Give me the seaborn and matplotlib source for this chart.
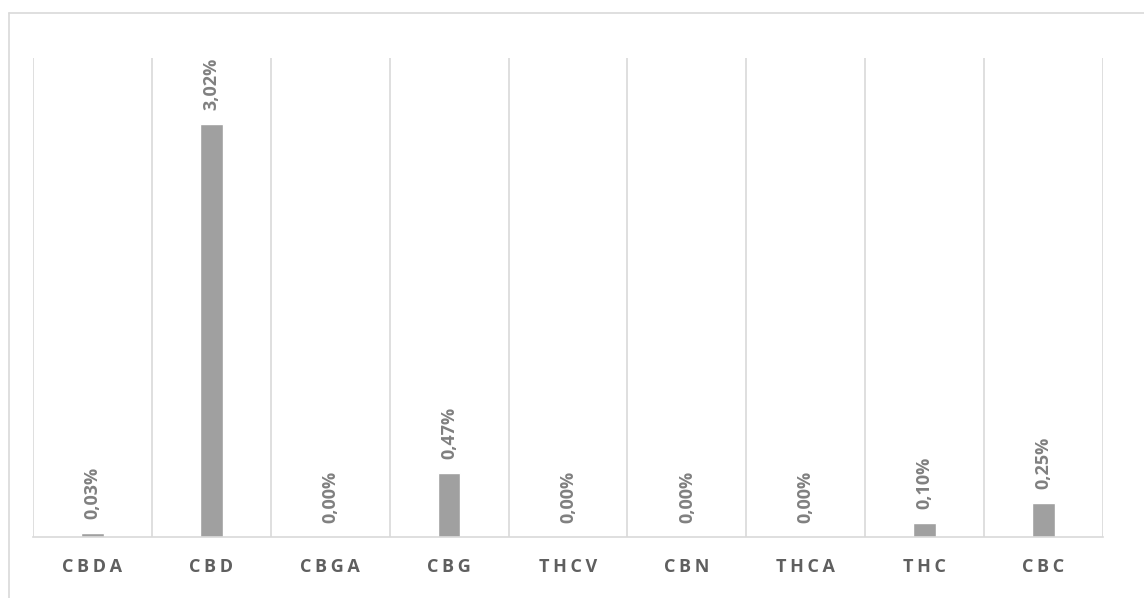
import numpy as np
import pandas as pd
import matplotlib
matplotlib.use("Agg")
import matplotlib.pyplot as plt
import seaborn as sns
from matplotlib.lines import Line2D

# data
categories = ["CBDA", "CBD", "CBGA", "CBG", "THCV", "CBN", "THCA", "THC", "CBC"]
values = [0.03, 3.02, 0.00, 0.47, 0.00, 0.00, 0.00, 0.10, 0.25]
value_labels = ["0,03%", "3,02%", "0,00%", "0,47%", "0,00%", "0,00%", "0,00%", "0,10%", "0,25%"]

df = pd.DataFrame({"cat": categories, "val": values})

sns.set_style("white")
plt.rcParams["font.family"] = ["Open Sans", "DejaVu Sans"]

W, H = 1144, 598
fig = plt.figure(figsize=(W / 100, H / 100), dpi=100)
ax = fig.add_axes([33 / W, (H - 537) / H, (1103 - 33) / W, (537 - 58) / H])

sns.barplot(data=df, x="cat", y="val", color="#a0a0a0", width=0.19,
            saturation=1, ax=ax)
ax.set_ylim(0, 3.5)
ax.set_xlim(-0.5, len(categories) - 0.5)

# value labels
for i, (v, lab) in enumerate(zip(values, value_labels)):
    ax.annotate(lab, (i, v), xytext=(0, 10), textcoords="offset points",
                rotation=90, ha="center", va="bottom", fontsize=13,
                fontweight="bold", color="#808080")

# category boundaries as gridlines
ax.set_xticks(np.arange(-0.5, len(categories)), minor=True)
ax.grid(True, axis="x", which="minor", color="#d9d9d9", linewidth=1.2)
ax.grid(False, axis="x", which="major")
ax.tick_params(axis="x", which="both", length=0)
ax.set_xticks(range(len(categories)))
ax.set_xticklabels(["\u2009".join(c) for c in categories], fontsize=13,
                   fontweight="bold", color="#5f5f5f")
ax.tick_params(axis="x", pad=15)
ax.set_yticks([])
ax.set_xlabel("")
ax.set_ylabel("")
for s in ["top", "left", "right"]:
    ax.spines[s].set_visible(False)
ax.spines["bottom"].set_color("#d9d9d9")
ax.spines["bottom"].set_linewidth(1.2)

# outer chart frame (partially visible)
fig.add_artist(Line2D([9 / W, 1.0], [1 - 13 / H, 1 - 13 / H], color="#d9d9d9", linewidth=1.2))
fig.add_artist(Line2D([9 / W, 9 / W], [1 - 13 / H, 0.0], color="#d9d9d9", linewidth=1.2))

fig.savefig("out.png", dpi=100)
